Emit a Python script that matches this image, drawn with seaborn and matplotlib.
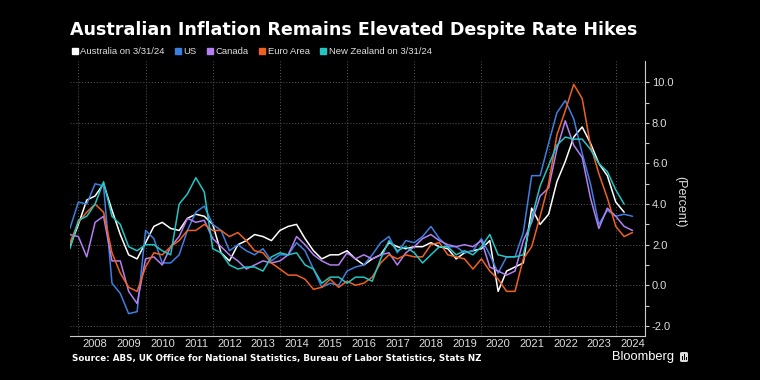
import numpy as np
import pandas as pd
import seaborn as sns
import matplotlib.pyplot as plt
from matplotlib.lines import Line2D
from matplotlib.patches import FancyBboxPatch, Rectangle

# quarterly y/y CPI, quarter-end readings, first quarter 2007 Q3
start = "2007-09-30"

australia = [1.9, 3.0,
             4.2, 4.4, 5.0, 3.7,
             2.5, 1.5, 1.3, 2.1,
             2.9, 3.1, 2.8, 2.7,
             3.3, 3.5, 3.4, 3.0,
             1.6, 1.2, 2.0, 2.2,
             2.5, 2.4, 2.2, 2.7,
             2.9, 3.0, 2.3, 1.7,
             1.3, 1.5, 1.5, 1.7,
             1.3, 1.0, 1.3, 1.5,
             2.1, 1.9, 1.8, 1.9,
             1.9, 2.1, 1.9, 1.8,
             1.3, 1.6, 1.7, 1.8,
             2.2, -0.3, 0.7, 0.9,
             1.1, 3.8, 3.0, 3.5,
             5.1, 6.1, 7.3, 7.8,
             7.0, 6.0, 5.4, 4.1,
             3.6]

us = [2.8, 4.1,
      4.0, 5.0, 4.9, 0.1,
      -0.4, -1.4, -1.3, 2.7,
      2.3, 1.1, 1.1, 1.5,
      2.7, 3.6, 3.9, 3.0,
      2.7, 1.7, 2.0, 1.7,
      1.5, 1.8, 1.2, 1.5,
      1.5, 2.1, 1.7, 0.8,
      -0.1, 0.1, 0.0, 0.7,
      0.9, 1.0, 1.5, 2.1,
      2.4, 1.6, 2.2, 2.1,
      2.4, 2.9, 2.3, 1.9,
      1.9, 1.6, 1.7, 2.3,
      1.5, 0.6, 1.4, 1.4,
      2.6, 5.4, 5.4, 7.0,
      8.5, 9.1, 8.2, 6.5,
      5.0, 3.0, 3.7, 3.4,
      3.5, 3.4]

canada = [2.5, 2.4,
          1.4, 3.1, 3.4, 1.2,
          1.2, -0.3, -0.9, 1.3,
          1.4, 1.0, 1.9, 2.4,
          3.3, 3.1, 3.2, 2.3,
          1.9, 1.5, 1.2, 0.8,
          1.0, 1.2, 1.1, 1.2,
          1.5, 2.4, 2.0, 1.5,
          1.2, 1.0, 1.0, 1.6,
          1.3, 1.5, 1.3, 1.5,
          1.6, 1.0, 1.6, 1.9,
          2.3, 2.5, 2.2, 2.0,
          1.9, 2.0, 1.9, 2.2,
          0.9, 0.7, 0.5, 0.7,
          2.2, 3.1, 4.4, 4.8,
          6.7, 8.1, 6.9, 6.3,
          4.3, 2.8, 3.8, 3.4,
          2.9, 2.7]

euro_area = [2.1, 3.1,
             3.6, 4.0, 3.6, 1.6,
             0.6, -0.1, -0.3, 0.9,
             1.6, 1.5, 1.9, 2.2,
             2.7, 2.7, 3.0, 2.7,
             2.7, 2.4, 2.6, 2.2,
             1.7, 1.6, 1.1, 0.8,
             0.5, 0.5, 0.3, -0.2,
             -0.1, 0.3, -0.1, 0.2,
             0.0, 0.1, 0.4, 1.1,
             1.5, 1.3, 1.5, 1.4,
             1.4, 2.0, 2.1, 1.5,
             1.4, 1.3, 0.8, 1.3,
             0.7, 0.3, -0.3, -0.3,
             1.3, 1.9, 3.4, 5.0,
             7.4, 8.6, 9.9, 9.2,
             6.9, 5.5, 4.3, 2.9,
             2.4, 2.6]

new_zealand = [1.8, 3.2,
               3.4, 4.0, 5.1, 3.4,
               3.0, 1.9, 1.7, 2.0,
               2.0, 1.7, 1.5, 4.0,
               4.5, 5.3, 4.6, 1.8,
               1.6, 1.0, 0.8, 0.9,
               0.9, 0.7, 1.4, 1.6,
               1.5, 1.6, 1.0, 0.8,
               0.1, 0.4, 0.4, 0.1,
               0.4, 0.4, 0.2, 1.3,
               2.2, 1.7, 1.9, 1.6,
               1.1, 1.5, 1.9, 1.9,
               1.5, 1.7, 1.5, 1.9,
               2.5, 1.5, 1.4, 1.4,
               1.5, 3.3, 4.9, 5.9,
               6.9, 7.3, 7.2, 7.2,
               6.7, 6.0, 5.6, 4.7,
               4.0]

series_names = ["Australia on 3/31/24", "US", "Canada", "Euro Area", "New Zealand on 3/31/24"]
series_values = [australia, us, canada, euro_area, new_zealand]
colors = ["#ffffff", "#3d7fe0", "#b47ff2", "#f0611e", "#22c5c3"]
years = list(range(2008, 2025))

frames = []
for name, vals in zip(series_names, series_values):
    d = pd.date_range(start, periods=len(vals), freq="QE")
    t = d.year + (d.dayofyear) / np.where(d.is_leap_year, 366, 365)
    frames.append(pd.DataFrame({"t": t, "value": vals, "series": name}))
df = pd.concat(frames, ignore_index=True)

sns.set_theme(style="dark", rc={"figure.facecolor": "black", "axes.facecolor": "black",
                                "savefig.facecolor": "black"})
plt.rcParams["font.family"] = ["Liberation Sans", "DejaVu Sans"]

fig = plt.figure(figsize=(7.6, 3.8), dpi=100)
ax = fig.add_axes([70 / 760, 1 - 336 / 380, 575 / 760, 275 / 380])

sns.lineplot(data=df, x="t", y="value", hue="series", hue_order=series_names,
             palette=dict(zip(series_names, colors)), linewidth=1.1,
             errorbar=None, legend=False, ax=ax)

ax.set_xlim(2007.75, 2024.87)
ax.set_ylim(-2.5, 11.05)

# grid
for y in range(-2, 11, 2):
    ax.axhline(y, color="#5a5a5a", linestyle=(0, (1, 2)), linewidth=0.7, zorder=0)
for yr in years[::2]:
    ax.axvline(yr, color="#5a5a5a", linestyle=(0, (1, 2)), linewidth=0.7, zorder=0)

# x axis: separators at year boundaries, labels mid-year
ax.set_xticks(years)
ax.set_xticklabels([])
ax.set_xticks([y + 0.5 for y in years], minor=True)
ax.set_xticklabels([str(y) for y in years], minor=True)
ax.tick_params(axis="x", which="major", length=10, width=0.8, color="#aaaaaa", direction="out")
ax.tick_params(axis="x", which="minor", length=0, pad=2, labelsize=8, labelcolor="#dddddd")

# y axis on the right
ax.yaxis.tick_right()
ax.set_yticks(range(-2, 11, 2))
ax.set_yticklabels([f"{v:.1f}" for v in range(-2, 11, 2)])
ax.set_yticks(range(-1, 11, 2), minor=True)
ax.tick_params(axis="y", which="both", length=3, width=0.8, color="#cccccc", direction="out",
               pad=2, labelsize=8, labelcolor="#dddddd", left=False, right=True)
ax.set_xlabel("")
ax.set_ylabel("")

for s in ["top", "left"]:
    ax.spines[s].set_visible(False)
for s in ["right", "bottom"]:
    ax.spines[s].set_visible(True)
    ax.spines[s].set_color("#cccccc")
    ax.spines[s].set_linewidth(0.8)

fig.text(680 / 760, 1 - 202 / 380, "(Percent)", rotation=270, ha="center", va="center",
         fontsize=9, color="#dddddd")

fig.text(70 / 760, 1 - 30 / 380, "Australian Inflation Remains Elevated Despite Rate Hikes",
         fontsize=12.6, fontweight="bold", color="white", va="center", ha="left",
         family=["DejaVu Sans"])

handles = [Line2D([], [], marker="s", linestyle="", color=c, markersize=5) for c in colors]
leg = fig.legend(handles, series_names, loc="center left", bbox_to_anchor=(66 / 760, 1 - 52 / 380),
                 ncol=5, frameon=False, fontsize=6.8, handletextpad=0.1, columnspacing=0.9,
                 handlelength=1.0, borderaxespad=0)
for txt in leg.get_texts():
    txt.set_color("#e0e0e0")

fig.text(72 / 760, 1 - 358 / 380,
         "Source: ABS, UK Office for National Statistics, Bureau of Labor Statistics, Stats NZ",
         fontsize=6.3, fontweight="bold", color="white", va="center", ha="left",
         family=["DejaVu Sans"])
fig.text(612 / 760, 1 - 357 / 380, "Bloomberg", fontsize=9.3, color="white", va="center", ha="left")

# small terminal icon next to the wordmark
fig.patches.append(FancyBboxPatch((680 / 760, 1 - 362 / 380), 8 / 760, 10 / 380,
                                  boxstyle="round,pad=0,rounding_size=0.003",
                                  transform=fig.transFigure, facecolor="#dddddd", edgecolor="none"))
for i, h in enumerate([4, 6, 3]):
    fig.patches.append(Rectangle(((681.5 + i * 2) / 760, 1 - 360 / 380), 1 / 760, h / 380,
                                 transform=fig.transFigure, facecolor="black", edgecolor="none"))

fig.savefig("out.png", dpi=100)
